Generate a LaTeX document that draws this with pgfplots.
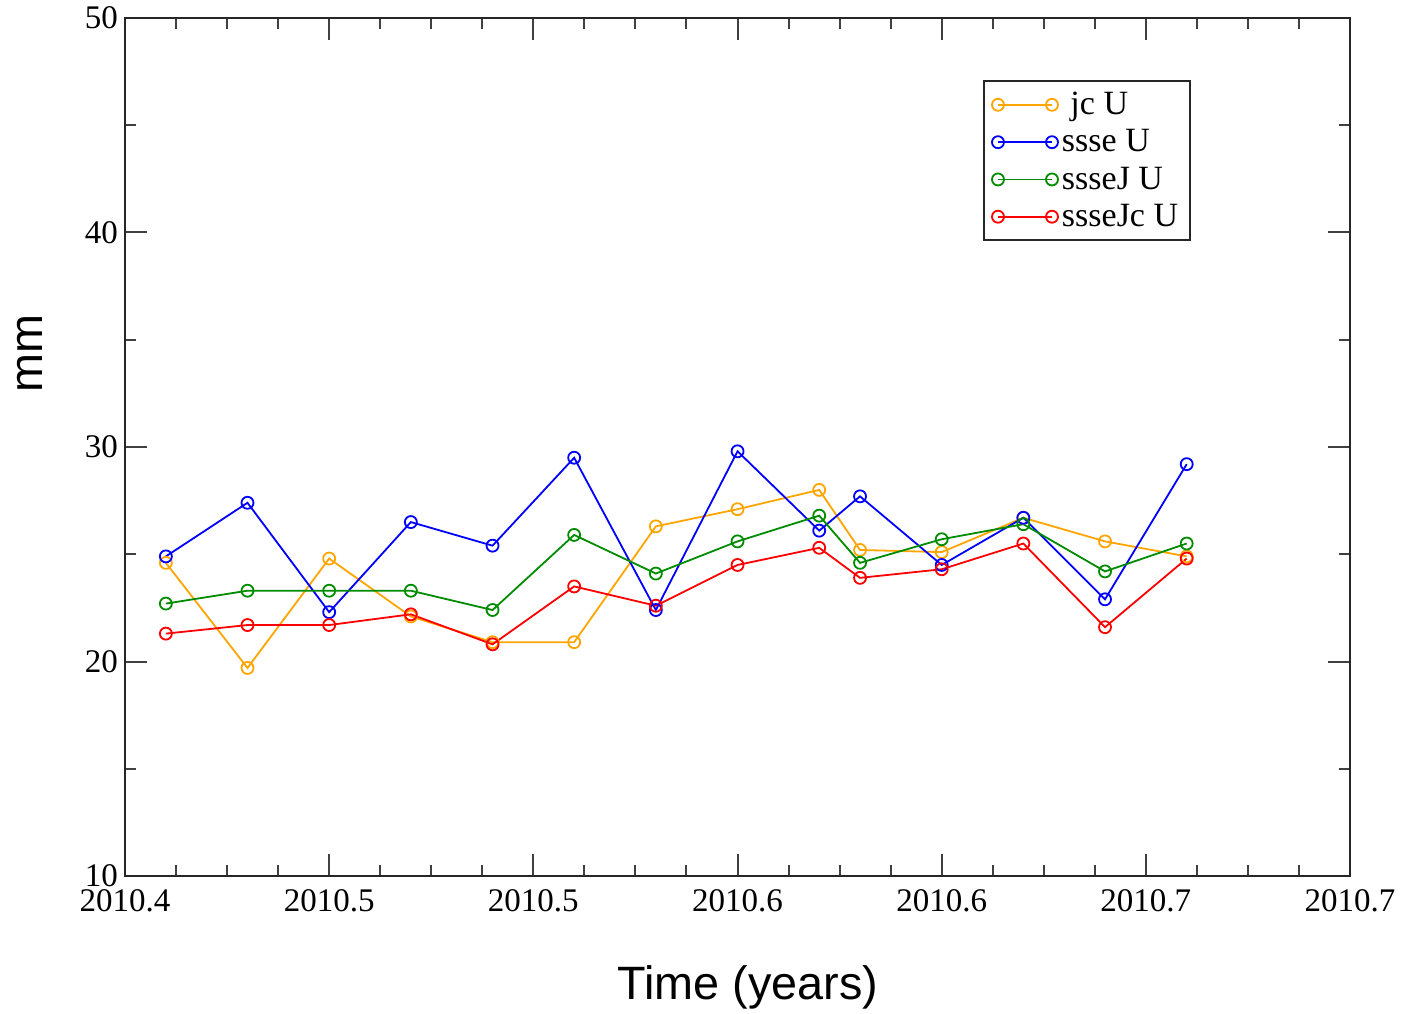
\documentclass[border=0pt]{standalone}
\usepackage{fontspec}
\setmainfont{Liberation Serif}
\newfontfamily\arialfont{Liberation Sans}
\usepackage{pgfplots}
\pgfplotsset{compat=1.18}
\definecolor{cOrange}{RGB}{255,165,0}
\definecolor{cBlue}{RGB}{0,0,255}
\definecolor{cGreen}{RGB}{0,139,0}
\definecolor{cRed}{RGB}{255,0,0}
\begin{document}
\begin{tikzpicture}
\begin{axis}[
  name=ax,
  width=612.5pt, height=429pt, scale only axis,
  xmin=2010.4, xmax=2010.7, ymin=10, ymax=50,
  xtick={2010.4,2010.45,2010.5,2010.55,2010.6,2010.65,2010.7},
  xticklabels={2010.4,2010.5,2010.5,2010.6,2010.6,2010.7,2010.7},
  minor x tick num=3,
  ytick={10,20,30,40,50},
  yticklabels={10,20,30,40,50},
  minor y tick num=1,
  tick align=inside,
  tick pos=both,
  major tick length=11pt, minor tick length=5.5pt,
  every tick/.style={black!75, line width=1pt},
  axis line style={line width=1.2pt, black!85},
  tick label style={font=\fontsize{16.5}{18}\selectfont},
  xticklabel style={yshift=-3pt},
  /pgf/number format/assume math mode=true,
  xlabel={Time (years)}, ylabel={mm},
  xlabel style={font=\arialfont\fontsize{23.4}{26}\selectfont, at={(axis description cs:0.5086,0)}, anchor=center, yshift=-55.5pt},
  ylabel style={font=\arialfont\fontsize{23.4}{26}\selectfont, at={(axis description cs:-0.0776,0.609)}, anchor=center},
  legend style={at={(axis description cs:0.7004,0.9277)}, anchor=north west, draw=black!85, line width=1pt,
    font=\fontsize{17}{19}\selectfont, cells={anchor=west}, inner xsep=4pt, inner ysep=3.5pt, row sep=2pt},
  legend image code/.code={\draw[mark repeat=1,mark phase=1,#1] plot coordinates {(0pt,0pt) (27pt,0pt)};},
  every axis plot/.append style={line width=0.9pt, mark=o, mark size=3pt},
]
\addplot[color=cOrange] coordinates {
(2010.41,24.6) (2010.43,19.7) (2010.45,24.8) (2010.47,22.1) (2010.49,20.9) (2010.51,20.9) (2010.53,26.3)
(2010.55,27.1) (2010.57,28.0) (2010.58,25.2) (2010.60,25.1) (2010.62,26.7) (2010.64,25.6) (2010.66,24.9)};
\addlegendentry{\ jc U}
\addplot[color=cBlue] coordinates {
(2010.41,24.9) (2010.43,27.4) (2010.45,22.3) (2010.47,26.5) (2010.49,25.4) (2010.51,29.5) (2010.53,22.4)
(2010.55,29.8) (2010.57,26.1) (2010.58,27.7) (2010.60,24.5) (2010.62,26.7) (2010.64,22.9) (2010.66,29.2)};
\addlegendentry{ssse U}
\addplot[color=cGreen] coordinates {
(2010.41,22.7) (2010.43,23.3) (2010.45,23.3) (2010.47,23.3) (2010.49,22.4) (2010.51,25.9) (2010.53,24.1)
(2010.55,25.6) (2010.57,26.8) (2010.58,24.6) (2010.60,25.7) (2010.62,26.4) (2010.64,24.2) (2010.66,25.5)};
\addlegendentry{ssseJ U}
\addplot[color=cRed] coordinates {
(2010.41,21.3) (2010.43,21.7) (2010.45,21.7) (2010.47,22.2) (2010.49,20.8) (2010.51,23.5) (2010.53,22.6)
(2010.55,24.5) (2010.57,25.3) (2010.58,23.9) (2010.60,24.3) (2010.62,25.5) (2010.64,21.6) (2010.66,24.8)};
\addlegendentry{ssseJc U}
\end{axis}
\pgfresetboundingbox
\path[use as bounding box] ([xshift=-62.5pt,yshift=-68.5pt]ax.south west) rectangle ([xshift=26.5pt,yshift=9pt]ax.north east);
\end{tikzpicture}
\end{document}
